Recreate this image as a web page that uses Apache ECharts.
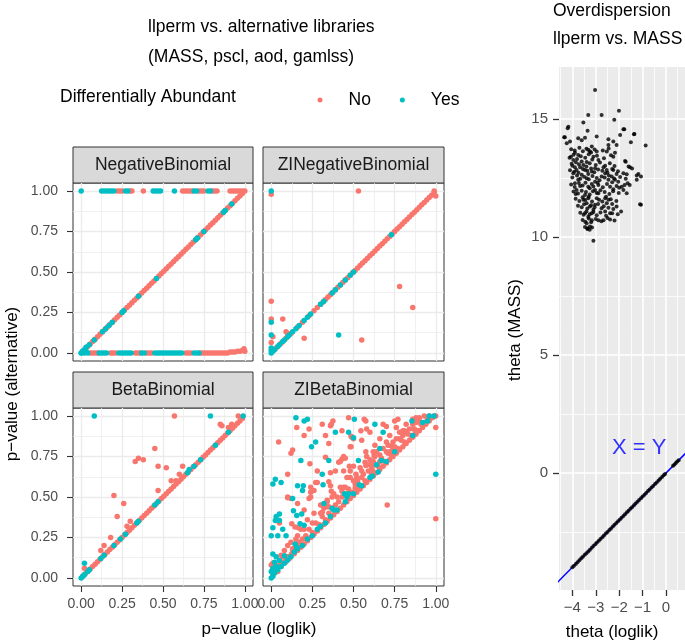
<!DOCTYPE html>
<html><head><meta charset="utf-8">
<script src="https://cdn.jsdelivr.net/npm/echarts@6/dist/echarts.min.js"></script>
<style>html,body{margin:0;padding:0;background:#fff}#c{width:685px;height:642px}</style>
</head><body><div id="c"></div>
<script>
const RED = '#F8766D', CYAN = '#00BFC4';
const facetNames = ['NegativeBinomial', 'ZINegativeBinomial', 'BetaBinomial', 'ZIBetaBinomial'];
const pTicks = [0, 0.25, 0.5, 0.75, 1];
const pMinor = [0.125, 0.375, 0.625, 0.875];
const thetaXTicks = [-4, -3, -2, -1, 0];
const thetaXMinor = [-4.5, -3.5, -2.5, -1.5, -0.5, 0.5];
const thetaYTicks = [0, 5, 10, 15];
const thetaYMinor = [-2.5, 2.5, 7.5, 12.5];

// ---- NegativeBinomial ----
const nbNo = [
[0.22,1],[0.235,1],[0.25,1],[0.3,1],[0.31,1],[0.38,1],[0.62,1],[0.635,1],[0.65,1],[0.665,1],[0.68,1],[0.72,1],[0.735,1],[0.75,1],[0.8,1],[0.815,1],[0.83,1],[0.91,1],[0.925,1],[0.94,1],[0.955,1],[0.97,1],[0.985,1],
[0.055,0],[0.07,0],[0.085,0],[0.1,0],[0.18,0],[0.195,0],[0.21,0],[0.33,0],[0.345,0],[0.36,0],[0.4,0],[0.415,0],[0.43,0],[0.64,0],[0.655,0],[0.67,0],[0.73,0],[0.745,0],[0.76,0],[0.775,0],[0.79,0],[0.805,0],[0.82,0],[0.835,0],[0.85,0],[0.865,0],[0.88,0],[0.895,0],[0.91,0.005],[0.925,0.005],[0.94,0.005],[0.955,0.01],[0.97,0.01],[0.985,0.015],[0.995,0.025],[1.0,0.01],
[0.01,0.01],[0.025,0.025],[0.04,0.04],[0.055,0.055],[0.07,0.07],[0.085,0.085],[0.1,0.1],[0.115,0.115],[0.13,0.13],[0.145,0.145],[0.16,0.16],[0.175,0.175],[0.19,0.19],[0.205,0.205],[0.22,0.22],[0.235,0.235],[0.25,0.25],[0.265,0.265],[0.28,0.28],[0.295,0.295],[0.31,0.31],[0.325,0.325],[0.34,0.34],[0.355,0.355],[0.37,0.37],[0.385,0.385],[0.4,0.4],[0.415,0.415],[0.43,0.43],[0.445,0.445],[0.46,0.46],[0.475,0.475],[0.49,0.49],[0.505,0.505],[0.52,0.52],[0.535,0.535],[0.55,0.55],[0.565,0.565],[0.58,0.58],[0.595,0.595],[0.61,0.61],[0.625,0.625],[0.64,0.64],[0.655,0.655],[0.67,0.67],[0.685,0.685],[0.7,0.7],[0.715,0.715],[0.73,0.73],[0.745,0.745],[0.76,0.76],[0.775,0.775],[0.79,0.79],[0.805,0.805],[0.82,0.82],[0.835,0.835],[0.85,0.85],[0.865,0.865],[0.88,0.88],[0.895,0.895],[0.91,0.91],[0.925,0.925],[0.94,0.94],[0.955,0.955],[0.97,0.97],[0.985,0.985],[1.0,1.0]
];
const nbYes = [
[0.0,1],[0.125,1],[0.14,1],[0.155,1],[0.17,1],[0.185,1],[0.2,1],[0.27,1],[0.285,1],[0.44,1],[0.455,1],[0.47,1],[0.485,1],[0.57,1],[0.69,1],[0.705,1],[0.775,1],[0.79,1],
[0.0,0],[0.01,0.01],[0.02,0],[0.03,0.01],[0.04,0],[0.11,0],[0.125,0],[0.14,0],[0.155,0],[0.23,0],[0.245,0],[0.26,0],[0.275,0],[0.29,0],[0.305,0],[0.37,0],[0.385,0],[0.45,0],[0.465,0],[0.48,0],[0.495,0],[0.51,0],[0.525,0],[0.54,0],[0.555,0],[0.57,0],[0.585,0],[0.6,0],[0.615,0],[0.69,0],[0.705,0],[0.72,0],
[0.0,0.0],[0.01,0.01],[0.02,0.02],[0.03,0.035],[0.05,0.05],[0.08,0.08],[0.13,0.13],[0.15,0.15],[0.17,0.17],[0.19,0.19],[0.25,0.25],[0.26,0.26],[0.35,0.35],[0.46,0.46],[0.7,0.7],[0.71,0.71],[0.75,0.75],[0.87,0.87],[0.88,0.88],[0.92,0.92]
];

// ---- ZINegativeBinomial ----
const zinbNo = [
[0.0,0.98],[0.53,1.0],[0.78,0.41],[0.86,0.28],[0.0,0.32],[0.0,0.21],[0.07,0.21],[0.01,0.1],[0.09,0.13],[0.0,0.065],[0.2,0.09],[0.55,0.08],[0.1,0.12],[0.99,1.0],[1.0,0.97],
[0.03,0.03],[0.06,0.06],[0.09,0.09],[0.12,0.12],[0.16,0.16],[0.19,0.19],[0.23,0.23],[0.26,0.26],[0.28,0.28],[0.3,0.3],[0.315,0.315],[0.33,0.33],[0.345,0.345],[0.36,0.36],[0.375,0.375],[0.39,0.39],[0.405,0.405],[0.42,0.42],[0.435,0.435],[0.45,0.45],[0.465,0.465],[0.48,0.48],[0.495,0.495],[0.51,0.51],[0.525,0.525],[0.54,0.54],[0.555,0.555],[0.57,0.57],[0.585,0.585],[0.6,0.6],[0.615,0.615],[0.63,0.63],[0.645,0.645],[0.66,0.66],[0.675,0.675],[0.69,0.69],[0.705,0.705],[0.72,0.72],[0.735,0.735],[0.75,0.75],[0.765,0.765],[0.78,0.78],[0.795,0.795],[0.81,0.81],[0.825,0.825],[0.84,0.84],[0.855,0.855],[0.87,0.87],[0.885,0.885],[0.9,0.9],[0.915,0.915],[0.93,0.93],[0.945,0.945],[0.96,0.96],[0.975,0.975],[0.99,0.99]
];
const zinbYes = [
[0.0,1.0],[0.0,0.19],[0.0,0.11],[0.41,0.11],[0.0,0.03],[0.0,0.0],[0.0,0.015],[0.01,0.01],[0.02,0.02],[0.04,0.04],
[0.05,0.05],[0.07,0.07],[0.08,0.08],[0.1,0.1],[0.11,0.11],[0.13,0.13],[0.15,0.15],[0.17,0.17],[0.2,0.2],[0.22,0.22],[0.24,0.24],[0.3,0.3],[0.32,0.32],[0.37,0.37],[0.39,0.39],[0.42,0.42],[0.45,0.45],[0.48,0.48],[0.5,0.5],[0.73,0.73]
];

// ---- BetaBinomial ----
const bbNo = [
[0.57,1.0],[0.96,1.0],[0.85,0.95],[0.86,0.94],[0.45,0.8],[0.33,0.72],[0.35,0.74],[0.38,0.73],[0.47,0.69],[0.52,0.68],[0.62,0.69],[0.6,0.64],[0.47,0.54],[0.2,0.51],[0.26,0.46],[0.22,0.38],[0.28,0.32],[0.3,0.35],[0.18,0.25],[0.14,0.2],[0.02,0.06],[0.12,0.17],[0.55,0.6],[0.58,0.6],[0.9,0.93],[0.92,0.95],
[0.01,0.01],[0.025,0.025],[0.04,0.04],[0.055,0.055],[0.07,0.07],[0.085,0.085],[0.1,0.1],[0.115,0.115],[0.13,0.13],[0.145,0.145],[0.16,0.16],[0.175,0.175],[0.19,0.19],[0.205,0.205],[0.22,0.22],[0.235,0.235],[0.25,0.25],[0.265,0.265],[0.28,0.28],[0.295,0.295],[0.31,0.31],[0.325,0.325],[0.34,0.34],[0.355,0.355],[0.37,0.37],[0.385,0.385],[0.4,0.4],[0.415,0.415],[0.43,0.43],[0.445,0.445],[0.46,0.46],[0.475,0.475],[0.49,0.49],[0.505,0.505],[0.52,0.52],[0.535,0.535],[0.55,0.55],[0.565,0.565],[0.58,0.58],[0.595,0.595],[0.61,0.61],[0.625,0.625],[0.64,0.64],[0.655,0.655],[0.67,0.67],[0.685,0.685],[0.7,0.7],[0.715,0.715],[0.73,0.73],[0.745,0.745],[0.76,0.76],[0.775,0.775],[0.79,0.79],[0.805,0.805],[0.82,0.82],[0.835,0.835],[0.85,0.85],[0.865,0.865],[0.88,0.88],[0.895,0.895],[0.91,0.91],[0.925,0.925],[0.94,0.94],[0.955,0.955],[0.97,0.97],[0.985,0.985]
];
const bbYes = [
[0.08,1.0],[0.79,1.0],[0.99,1.0],[0.02,0.09],[0.0,0.0],[0.01,0.01],[0.02,0.02],[0.04,0.04],[0.05,0.05],[0.12,0.12],[0.14,0.14],[0.2,0.2],[0.24,0.24],[0.27,0.27],[0.34,0.34],[0.35,0.35],[0.45,0.45],[0.47,0.47],[0.65,0.65],[0.66,0.67],[0.69,0.69],[0.73,0.73],[0.82,0.82],[0.9,0.9]
];

// ---- ZIBetaBinomial ----
const zibbNo = [
[0.155,0.93],[0.23,0.92],[0.2,0.88],[0.31,0.95],[0.365,0.95],[0.375,0.97],[0.36,0.94],[0.43,0.91],[0.47,0.99],[0.485,0.876],[0.045,0.84],[0.13,0.79],[0.12,0.77],[0.35,0.83],[0.485,0.81],[0.235,0.705],[0.33,0.746],[0.43,0.735],[0.44,0.75],[0.41,0.715],[0.475,0.69],[0.48,0.66],[0.1,0.64],[0.36,0.65],[0.48,0.62],[0.27,0.59],[0.24,0.56],[0.24,0.53],[0.35,0.595],[0.36,0.57],[0.365,0.535],[0.44,0.56],[0.43,0.535],[0.1,0.5],[0.12,0.49],
[0.565,0.98],[0.575,0.97],[0.7,0.935],[0.58,0.92],[0.545,0.91],[0.75,0.97],[0.77,0.98],[1.0,0.93],[0.8,0.91],[0.81,0.91],[0.865,0.92],[0.875,0.89],[0.49,0.87],[0.5,0.86],[0.48,0.81],[0.63,0.82],[0.575,0.78],[0.625,0.755],[0.71,0.82],[0.73,0.815],[0.74,0.8],[0.57,0.715],[0.575,0.695],[0.61,0.685],[0.615,0.665],[0.515,0.64],[0.525,0.6],[0.51,0.555],
[0.705,0.45],[1.0,0.365],[0.39,0.66],[0.28,0.59],[0.26,0.54],[0.42,0.72],[0.45,0.74],
[0.1,0.495],[0.23,0.49],[0.24,0.5],[0.34,0.48],[0.37,0.5],[0.05,0.34],[0.125,0.335],[0.145,0.315],[0.165,0.31],[0.32,0.43],[0.31,0.405],[0.34,0.44],[0.01,0.09],[0.0,0.08],[0.07,0.13],[0.125,0.148],[0.13,0.16],
[0.01,0.02],[0.02,0.03],[0.03,0.05],[0.04,0.04],[0.05,0.08],[0.06,0.07],[0.07,0.09],[0.08,0.1],[0.09,0.1],[0.1,0.13],[0.11,0.12],[0.12,0.14],[0.13,0.18],[0.14,0.15],[0.15,0.2],[0.16,0.17],[0.17,0.22],[0.18,0.19],[0.19,0.24],[0.2,0.21],[0.21,0.26],[0.22,0.23],[0.23,0.3],[0.24,0.25],[0.25,0.28],[0.26,0.27],[0.27,0.34],[0.28,0.29],[0.29,0.33],[0.3,0.31],[0.31,0.38],[0.32,0.33],[0.33,0.36],[0.34,0.35],[0.35,0.4],[0.36,0.37],[0.37,0.43],[0.38,0.39],[0.39,0.45],[0.4,0.41],[0.41,0.47],[0.42,0.43],[0.43,0.5],[0.44,0.45],[0.45,0.52],[0.46,0.47],[0.47,0.55],[0.48,0.49],[0.49,0.53],[0.5,0.51],[0.51,0.58],[0.52,0.53],[0.53,0.56],[0.54,0.55],[0.55,0.62],[0.56,0.57],[0.57,0.6],[0.58,0.59],[0.59,0.66],[0.6,0.61],[0.61,0.64],[0.62,0.63],[0.63,0.7],[0.64,0.65],[0.65,0.69],[0.66,0.67],[0.67,0.74],[0.68,0.69],[0.69,0.72],[0.7,0.71],[0.71,0.77],[0.72,0.73],[0.73,0.76],[0.74,0.75],[0.75,0.81],[0.76,0.77],[0.77,0.8],[0.78,0.79],[0.79,0.85],[0.8,0.81],[0.81,0.84],[0.82,0.83],[0.83,0.89],[0.84,0.85],[0.85,0.88],[0.86,0.87],[0.87,0.92],[0.88,0.89],[0.89,0.91],[0.9,0.91],[0.91,0.95],[0.92,0.93],[0.93,0.96],[0.94,0.95],[0.95,0.98],[0.96,0.97],[0.97,0.99],[0.98,0.99],[0.99,1.0],[1.0,1.0],
[0.55,0.66],[0.6,0.7],[0.66,0.76],[0.7,0.78],[0.74,0.84],[0.78,0.86],[0.82,0.9],[0.86,0.95],[0.9,0.97],[0.93,1.0],[0.96,1.0],[0.88,0.99],[0.45,0.56],[0.5,0.6],[0.4,0.5],[0.35,0.44],[0.3,0.4],[0.25,0.34],[0.2,0.3],[0.15,0.24],[0.1,0.2],[0.06,0.14],[0.58,0.7],[0.63,0.75],
[0.52,0.62],[0.54,0.68],[0.56,0.64],[0.6,0.73],[0.62,0.72],[0.64,0.78],[0.66,0.72],[0.68,0.8],[0.7,0.84],[0.72,0.78],[0.76,0.86],[0.78,0.9],[0.8,0.88],[0.84,0.92],[0.82,0.95],[0.86,0.98],[0.9,0.99],[0.88,0.96],[0.76,0.93],[0.72,0.88],[0.66,0.86],[0.62,0.78],[0.58,0.75],[0.5,0.69],[0.46,0.62],[0.42,0.56],[0.38,0.52],[0.34,0.47],[0.3,0.45],[0.26,0.4],[0.22,0.36],[0.18,0.3],[0.16,0.26],[0.12,0.22],[0.08,0.17],[0.44,0.66],[0.55,0.85],[0.6,0.9],[0.68,0.95],[0.16,0.46],[0.2,0.42],[0.28,0.66],[0.33,0.88]
];
const zibbYes = [
[0.15,0.99],[0.2,0.97],[0.22,0.98],[0.39,0.9],[0.505,0.98],[0.47,0.9],[0.5,0.866],[0.245,0.81],[0.27,0.84],[0.18,0.725],[0.35,0.725],[0.31,0.64],[0.025,0.61],[0.01,0.58],[0.06,0.59],[0.16,0.57],[0.195,0.57],[0.19,0.54],[0.315,0.575],[0.445,0.52],[0.47,0.52],[0.46,0.5],
[0.63,0.95],[0.68,0.9],[0.855,0.97],[0.96,1.0],[0.92,0.96],[1.0,0.64],[0.66,0.8],[0.53,0.725],[0.64,0.7],[0.67,0.725],[0.65,0.655],[0.615,0.63],[0.535,0.575],
[0.13,0.49],[0.05,0.395],[0.03,0.38],[0.025,0.355],[0.05,0.355],[0.07,0.3],[0.01,0.31],[0.0,0.26],[0.04,0.26],[0.09,0.26],[0.135,0.415],[0.155,0.385],[0.185,0.395],[0.175,0.335],[0.2,0.325],[0.32,0.46],[0.37,0.43],[0.38,0.42],[0.145,0.21],[0.155,0.19],[0.01,0.148],[0.03,0.13],[0.02,0.097],[0.05,0.107],[0.08,0.137],[0.0,0.04],[0.01,0.06],[0.03,0.07],[0.0,0.0],[0.01,0.01],[0.02,0.03],[0.04,0.05],
[0.06,0.07],[0.08,0.09],[0.1,0.11],[0.12,0.13],[0.14,0.16],[0.16,0.18],[0.19,0.2],[0.22,0.24],[0.25,0.26],[0.28,0.3],[0.3,0.32],[0.33,0.34],[0.36,0.38],[0.4,0.42],[0.45,0.47],[0.5,0.52],[0.55,0.57],[0.6,0.62],[0.7,0.72],[0.75,0.78],[0.86,0.88],[0.95,0.97],[0.99,1.0]
];

// ---- Overdispersion: theta (loglik) vs theta (MASS) ----
const thetaCloud = [
[-3.03,16.23],[-3.32,15.17],[-2.75,15.17],[-2.01,15.35],[-2.21,14.96],[-3.53,14.85],[-4.17,14.67],[-4.2,14.6],[-3.35,14.5],[-1.78,14.56],[-1.96,14.32],[-1.35,14.36],[-0.87,13.87],[-1.5,14.01],[-2.96,14.25],[-4.32,14.22],[-3.75,14.18],[-3.6,14.1],[-3.46,14.2],[-4.1,14.04],[-4.24,13.97],[-2.46,14.14],[-2.25,14.04],[-2.11,13.9],[-2.46,13.9],[-3.17,13.83],[-3.32,13.69],[-3.25,13.62],[-2.53,13.62],[-2.18,13.57],[-2.25,13.4],[-4.06,13.4],[-3.89,13.57],[-3.75,13.47],[-3.96,13.26],[-1.75,13.22],[-2.96,13.62],[-2.89,13.26],[-3.1,13.4],[-3.39,13.18],[-3.53,13.05],[-3.67,12.95],[-4.03,13.1],[-3.89,12.95],[-3.82,12.84],[-3.96,12.7],[-1.54,12.95],[-1.18,12.67],[-1.07,12.56],[-1.25,12.42],[-1.68,12.66],[-1.64,12.27],[-2.25,12.84],[-2.11,12.67],[-2.32,12.56],[-2.18,12.42],[-2.67,12.95],[-2.53,12.84],[-2.6,12.7],[-2.75,12.56],[-3.03,12.91],[-3.17,12.77],[-3.32,12.67],[-3.46,12.84],[-3.6,12.63],[-3.39,12.49],[-3.75,12.42],[-3.89,12.27],[-3.67,12.16],[-3.82,11.99],[-3.86,11.82],[-3.32,12.13],[-3.17,12.24],[-3.03,12.34],[-2.89,12.2],[-3.03,11.99],[-2.46,12.42],[-2.39,12.13],[-2.25,12.02],[-2.11,12.16],[-2.04,12.34],[-1.68,11.85],[-1.89,12.13],[-1.82,11.99],[-3.46,11.78],[-3.32,11.64],[-3.53,11.57],[-3.39,11.43],[-3.25,11.29],[-2.89,11.85],[-2.96,11.64],[-2.6,11.64],[-2.46,11.57],[-2.53,11.43],[-3.03,11.36],[-3.1,11.15],[-3.17,11.0],[-2.75,11.22],[-2.6,11.08],[-2.39,11.0],[-2.25,11.18],[-2.11,11.29],[-1.92,11.08],[-1.07,11.36],[-3.46,11.0],[-3.32,10.86],[-3.17,10.71],[-2.89,10.71],[-2.67,10.71],[-2.39,10.74],[-3.39,10.58],[-3.25,10.44],[-3.35,10.37],[-3.1,9.84],
[-4.35,14.22],[-1.82,14.56],[-1.37,14.35],[-1.11,11.38],[-1.72,13.19],[-1.6,12.98],[-1.45,12.9],[-1.25,12.6],[-1.77,12.2],
[-4.05,13.72],[-3.9,13.66],[-3.7,13.78],[-3.55,13.63],[-3.4,13.74],[-3.2,13.58],[-3.05,13.7],[-2.7,13.66],[-2.45,13.75],
[-4.12,13.35],[-3.95,13.48],[-3.8,13.3],[-3.64,13.42],[-3.45,13.36],[-3.3,13.5],[-3.15,13.28],[-2.95,13.44],[-2.65,13.33],[-2.35,13.46],
[-4.0,13.02],[-3.85,13.16],[-3.72,13.08],[-3.6,13.2],[-3.4,12.98],[-3.26,13.12],[-3.0,13.05],[-2.82,13.15],[-2.6,13.02],[-2.4,13.12],[-2.2,13.0],
[-4.1,12.82],[-3.92,12.76],[-3.74,12.72],[-3.55,12.88],[-3.36,12.8],[-3.2,12.9],[-3.06,12.74],[-2.9,12.86],[-2.72,12.8],[-2.5,12.72],[-2.3,12.88],[-2.05,12.78],[-1.82,12.7],
[-4.0,12.52],[-3.8,12.6],[-3.66,12.46],[-3.5,12.55],[-3.3,12.44],[-3.14,12.58],[-2.96,12.5],[-2.84,12.4],[-2.62,12.52],[-2.44,12.6],[-2.22,12.48],[-1.96,12.54],[-1.72,12.46],
[-4.05,12.22],[-3.9,12.12],[-3.72,12.28],[-3.56,12.18],[-3.44,12.3],[-3.26,12.06],[-3.1,12.14],[-2.92,12.3],[-2.7,12.1],[-2.52,12.24],[-2.3,12.32],[-2.0,12.08],[-1.55,12.2],
[-3.95,11.92],[-3.76,11.84],[-3.6,11.96],[-3.42,11.9],[-3.26,11.8],[-3.12,11.94],[-2.96,11.86],[-2.8,11.98],[-2.62,11.9],[-2.42,11.82],[-2.26,11.94],[-2.02,11.86],
[-3.86,11.62],[-3.7,11.52],[-3.56,11.68],[-3.45,11.56],[-3.3,11.7],[-3.16,11.5],[-2.86,11.58],[-2.72,11.5],[-2.56,11.7],[-2.36,11.6],[-2.12,11.52],
[-3.76,11.32],[-3.6,11.26],[-3.5,11.38],[-3.36,11.2],[-3.2,11.34],[-3.05,11.26],[-2.9,11.4],[-2.66,11.3],[-2.46,11.24],[-2.3,11.4],
[-3.66,11.02],[-3.52,10.94],[-3.4,11.08],[-3.26,10.96],[-3.1,11.06],[-2.96,10.92],[-2.8,11.04],[-2.56,10.9],[-2.3,11.0],[-2.06,10.96],
[-3.56,10.72],[-3.45,10.64],[-3.3,10.78],[-3.2,10.62],[-3.0,10.76],[-2.76,10.66],[-2.5,10.8],[-2.2,10.7],
[-3.46,10.42],[-3.36,10.34],[-3.26,10.3],[-3.16,10.4]
];
const thetaDiag = [
[-4.0,-4.0],[-3.93,-3.93],[-3.85,-3.86],[-3.78,-3.78],[-3.7,-3.7],[-3.62,-3.62],[-3.55,-3.55],[-3.47,-3.47],[-3.4,-3.4],[-3.32,-3.33],[-3.25,-3.25],[-3.17,-3.17],[-3.1,-3.1],[-3.02,-3.02],[-2.95,-2.95],[-2.87,-2.87],[-2.8,-2.8],[-2.72,-2.72],[-2.65,-2.65],[-2.57,-2.57],[-2.5,-2.5],[-2.42,-2.42],[-2.35,-2.35],[-2.27,-2.27],[-2.2,-2.2],[-2.12,-2.12],[-2.05,-2.05],[-1.97,-1.97],[-1.9,-1.9],[-1.82,-1.82],[-1.75,-1.75],[-1.67,-1.67],[-1.6,-1.6],[-1.52,-1.52],[-1.45,-1.45],[-1.37,-1.37],[-1.3,-1.3],[-1.22,-1.22],[-1.15,-1.15],[-1.07,-1.07],[-1.0,-1.0],[-0.92,-0.92],[-0.85,-0.85],[-0.77,-0.77],[-0.7,-0.7],[-0.62,-0.62],[-0.55,-0.55],[-0.47,-0.47],[-0.4,-0.4],[-0.32,-0.32],[-0.25,-0.25],[-0.17,-0.17],[-0.1,-0.1],[-0.04,-0.04],[0.3,0.3],[0.36,0.36],[0.42,0.42],[0.48,0.48],[0.54,0.54]
];
const identityLine = [[-5, -5], [1, 1]];
const xyLabelPos = [[-1.15, 1.06]];

const facetData = [[nbNo, nbYes], [zinbNo, zinbYes], [bbNo, bbYes], [zibbNo, zibbYes]];
const facetBoxes = [
  {left: 73, top: 183, width: 180, height: 178},
  {left: 263, top: 183, width: 181, height: 178},
  {left: 73, top: 408, width: 180, height: 178},
  {left: 263, top: 408, width: 181, height: 178}
];
const TXT = '"Liberation Sans", Arial, Helvetica, sans-serif';
const TICKCOL = '#4D4D4D';

const grid = [], xAxis = [], yAxis = [], series = [], graphic = [];
facetBoxes.forEach((b, i) => {
  grid.push(Object.assign({show: true, borderColor: '#333333', borderWidth: 1, backgroundColor: '#fff'}, b));
  const showX = i >= 2, showY = i % 2 === 0;
  const mk = (vals, show, major, pos) => ({
    type: 'value', gridIndex: i, min: -0.05, max: 1.05, position: pos, offset: 0,
    axisLine: {show: false, onZero: false},
    axisTick: {show: show && major, customValues: vals, length: 6, lineStyle: {color: '#333', width: 1.1}},
    axisLabel: {show: show && major, customValues: vals, formatter: v => v.toFixed(2), fontSize: 14, fontFamily: TXT, color: TICKCOL, margin: pos === 'left' ? 15 : 11},
    splitLine: {show: true, lineStyle: {color: '#EBEBEB', width: major ? 1.3 : 0.7}}
  });
  xAxis.push(mk(pMinor, showX, false, 'bottom'), mk(pTicks, showX, true, 'bottom'));
  yAxis.push(mk(pMinor, showY, false, 'left'), mk(pTicks, showY, true, 'left'));
  const [no, yes] = facetData[i];
  series.push({type: 'scatter', name: 'No', xAxisIndex: 2 * i + 1, yAxisIndex: 2 * i + 1, data: no, symbolSize: 5.5, itemStyle: {color: RED, opacity: 1}, silent: true});
  series.push({type: 'scatter', name: 'Yes', xAxisIndex: 2 * i + 1, yAxisIndex: 2 * i + 1, data: yes, symbolSize: 5.5, itemStyle: {color: CYAN, opacity: 1}, silent: true});
  graphic.push({type: 'rect', shape: {x: b.left, y: b.top - 36, width: b.width, height: 36}, style: {fill: '#D9D9D9', stroke: '#333333', lineWidth: 1}});
  graphic.push({type: 'text', x: b.left + b.width / 2, y: b.top - 18, style: {text: facetNames[i], fill: '#1A1A1A', font: '17.5px ' + TXT, align: 'center', verticalAlign: 'middle'}});
});

// right panel
const g = 4;
grid.push({left: 559, top: 67, width: 126, height: 523, show: true, backgroundColor: '#EBEBEB', borderWidth: 0});
const thetaFmt = v => v < 0 ? '\u2212' + Math.abs(v) : String(v);
const mkT = (vals, major, min, max, pos) => ({
  type: 'value', gridIndex: g, min: min, max: max, position: pos, offset: 0,
  axisLine: {show: false, onZero: false},
  axisTick: {show: major, customValues: vals, length: 6, lineStyle: {color: '#333', width: 1.3}},
  axisLabel: {show: major, customValues: vals, formatter: thetaFmt, fontSize: 15, fontFamily: TXT, color: TICKCOL, margin: pos === 'left' ? 11 : 10},
  splitLine: {show: true, lineStyle: {color: '#FFFFFF', width: major ? 1.6 : 0.8}}
});
xAxis.push(mkT(thetaXMinor, false, -4.57, 0.81, 'bottom'), mkT(thetaXTicks, true, -4.57, 0.81, 'bottom'));
yAxis.push(mkT(thetaYMinor, false, -4.96, 17.2, 'left'), mkT(thetaYTicks, true, -4.96, 17.2, 'left'));
series.push({type: 'line', xAxisIndex: 9, yAxisIndex: 9, data: identityLine, symbol: 'none', clip: true, lineStyle: {color: '#0000FF', width: 1.5}, z: 1, silent: true});
series.push({type: 'scatter', xAxisIndex: 9, yAxisIndex: 9, data: thetaCloud, symbolSize: 4, itemStyle: {color: '#000'}, z: 3, silent: true});
series.push({type: 'scatter', xAxisIndex: 9, yAxisIndex: 9, data: thetaDiag, symbolSize: 4, itemStyle: {color: '#000'}, z: 3, silent: true});
series.push({type: 'scatter', xAxisIndex: 9, yAxisIndex: 9, data: xyLabelPos, symbolSize: 0, silent: true, z: 4,
  label: {show: true, position: 'inside', formatter: 'X = Y', color: '#0000FF', fontSize: 22, fontFamily: TXT}});

// titles and labels
graphic.push({type: 'text', x: 148, y: 27, style: {text: 'llperm vs. alternative libraries', fill: '#000', font: '17.5px ' + TXT, verticalAlign: 'middle'}});
graphic.push({type: 'text', x: 148, y: 57, style: {text: '(MASS, pscl, aod, gamlss)', fill: '#000', font: '17.5px ' + TXT, verticalAlign: 'middle'}});
graphic.push({type: 'text', x: 60, y: 97, style: {text: 'Differentially Abundant', fill: '#000', font: '17.5px ' + TXT, verticalAlign: 'middle'}});
graphic.push({type: 'text', x: 12, y: 384, rotation: Math.PI / 2, style: {text: 'p\u2212value (alternative)', fill: '#000', font: '17px ' + TXT, align: 'center', verticalAlign: 'middle'}});
graphic.push({type: 'text', x: 259, y: 629, style: {text: 'p\u2212value (loglik)', fill: '#000', font: '17px ' + TXT, align: 'center', verticalAlign: 'middle'}});
graphic.push({type: 'text', x: 553, y: 11, style: {text: 'Overdispersion', fill: '#000', font: '17.5px ' + TXT, verticalAlign: 'middle'}});
graphic.push({type: 'text', x: 553, y: 39, style: {text: 'llperm vs. MASS', fill: '#000', font: '17.5px ' + TXT, verticalAlign: 'middle'}});
graphic.push({type: 'text', x: 515, y: 330, rotation: Math.PI / 2, style: {text: 'theta (MASS)', fill: '#000', font: '17px ' + TXT, align: 'center', verticalAlign: 'middle'}});
graphic.push({type: 'text', x: 612, y: 632, style: {text: 'theta (loglik)', fill: '#000', font: '17px ' + TXT, align: 'center', verticalAlign: 'middle'}});

const chart = echarts.init(document.getElementById('c'), null, {renderer: 'canvas'});
chart.setOption({
  animation: false,
  backgroundColor: '#fff',
  legend: {left: 312.5, top: 86, icon: 'circle', itemWidth: 5, itemHeight: 5, itemGap: 29, selectedMode: false,
    data: ['No', 'Yes'], textStyle: {fontSize: 17.5, fontFamily: TXT, color: '#000', padding: [0, 0, 0, 21]}},
  grid, xAxis, yAxis, series, graphic
});
</script></body></html>
